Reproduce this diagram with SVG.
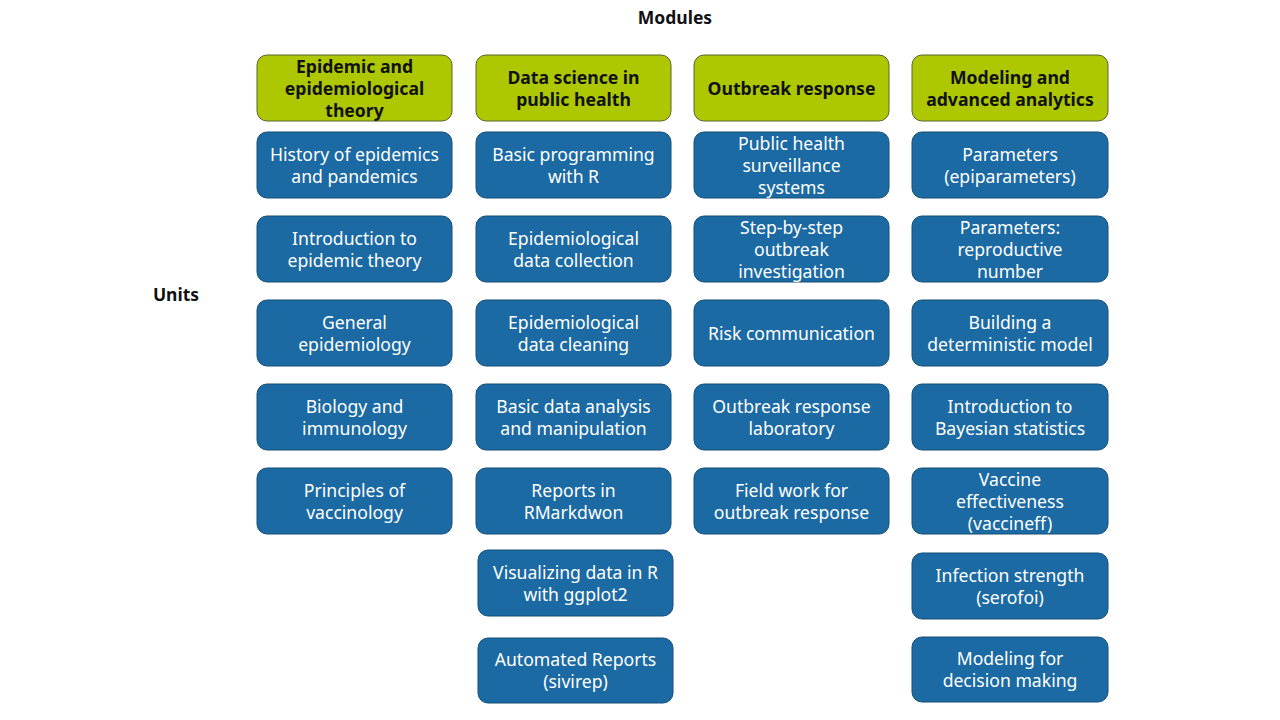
<svg xmlns="http://www.w3.org/2000/svg" width="1280" height="720" viewBox="0 0 1280 720">
  <style>
    .mod rect { fill: #adc800; stroke: #5a6330; stroke-width: 1; }
    .unit rect { fill: #1b6aa3; stroke: #164f78; stroke-width: 1; }
    text { font-family: "Noto Sans", "Open Sans", sans-serif; text-anchor: middle; }
    .mod text { fill: #111; font-size: 17.6px; font-weight: bold; }
    .unit text { fill: #ffffff; font-size: 17.6px; }
    .lbl { fill: #111; font-size: 17.5px; font-weight: bold; }
  </style>
  <rect width="1280" height="720" fill="#ffffff"/>

  <text class="lbl" x="675" y="24">Modules</text>
  <text class="lbl" x="176" y="301">Units</text>

  <!-- Module headers -->
  <g id="mod-epi" class="mod">
    <rect x="257" y="55" width="195" height="66" rx="10"/>
    <text x="354.5" y="73">Epidemic and</text>
    <text x="354.5" y="95">epidemiological</text>
    <text x="354.5" y="117">theory</text>
  </g>
  <g id="mod-ds" class="mod">
    <rect x="476" y="55" width="195" height="66" rx="10"/>
    <text x="573.5" y="84">Data science in</text>
    <text x="573.5" y="106">public health</text>
  </g>
  <g id="mod-or" class="mod">
    <rect x="694" y="55" width="195" height="66" rx="10"/>
    <text x="791.5" y="95">Outbreak response</text>
  </g>
  <g id="mod-mod" class="mod">
    <rect x="912" y="55" width="196" height="66" rx="10"/>
    <text x="1010" y="84">Modeling and</text>
    <text x="1010" y="106">advanced analytics</text>
  </g>

  <!-- Column 1 units -->
  <g id="u-history" class="unit">
    <rect x="257" y="132" width="195" height="66" rx="10"/>
    <text x="354.5" y="161">History of epidemics</text>
    <text x="354.5" y="183">and pandemics</text>
  </g>
  <g id="u-intro-epi" class="unit">
    <rect x="257" y="216" width="195" height="66" rx="10"/>
    <text x="354.5" y="245">Introduction to</text>
    <text x="354.5" y="267">epidemic theory</text>
  </g>
  <g id="u-general-epi" class="unit">
    <rect x="257" y="300" width="195" height="66" rx="10"/>
    <text x="354.5" y="329">General</text>
    <text x="354.5" y="351">epidemiology</text>
  </g>
  <g id="u-biology" class="unit">
    <rect x="257" y="384" width="195" height="66" rx="10"/>
    <text x="354.5" y="413">Biology and</text>
    <text x="354.5" y="435">immunology</text>
  </g>
  <g id="u-vaccinology" class="unit">
    <rect x="257" y="468" width="195" height="66" rx="10"/>
    <text x="354.5" y="497">Principles of</text>
    <text x="354.5" y="519">vaccinology</text>
  </g>

  <!-- Column 2 units -->
  <g id="u-programming" class="unit">
    <rect x="476" y="132" width="195" height="66" rx="10"/>
    <text x="573.5" y="161">Basic programming</text>
    <text x="573.5" y="183">with R</text>
  </g>
  <g id="u-collection" class="unit">
    <rect x="476" y="216" width="195" height="66" rx="10"/>
    <text x="573.5" y="245">Epidemiological</text>
    <text x="573.5" y="267">data collection</text>
  </g>
  <g id="u-cleaning" class="unit">
    <rect x="476" y="300" width="195" height="66" rx="10"/>
    <text x="573.5" y="329">Epidemiological</text>
    <text x="573.5" y="351">data cleaning</text>
  </g>
  <g id="u-analysis" class="unit">
    <rect x="476" y="384" width="195" height="66" rx="10"/>
    <text x="573.5" y="413">Basic data analysis</text>
    <text x="573.5" y="435">and manipulation</text>
  </g>
  <g id="u-rmarkdown" class="unit">
    <rect x="476" y="468" width="195" height="66" rx="10"/>
    <text x="573.5" y="497">Reports in</text>
    <text x="573.5" y="519">RMarkdwon</text>
  </g>
  <g id="u-ggplot" class="unit">
    <rect x="478" y="550" width="195" height="66" rx="10"/>
    <text x="575.5" y="579">Visualizing data in R</text>
    <text x="575.5" y="601">with ggplot2</text>
  </g>
  <g id="u-sivirep" class="unit">
    <rect x="478" y="638" width="195" height="65" rx="10"/>
    <text x="575.5" y="666">Automated Reports</text>
    <text x="575.5" y="688">(sivirep)</text>
  </g>

  <!-- Column 3 units -->
  <g id="u-surveillance" class="unit">
    <rect x="694" y="132" width="195" height="66" rx="10"/>
    <text x="791.5" y="150">Public health</text>
    <text x="791.5" y="172">surveillance</text>
    <text x="791.5" y="194">systems</text>
  </g>
  <g id="u-investigation" class="unit">
    <rect x="694" y="216" width="195" height="66" rx="10"/>
    <text x="791.5" y="234">Step-by-step</text>
    <text x="791.5" y="256">outbreak</text>
    <text x="791.5" y="278">investigation</text>
  </g>
  <g id="u-risk" class="unit">
    <rect x="694" y="300" width="195" height="66" rx="10"/>
    <text x="791.5" y="340">Risk communication</text>
  </g>
  <g id="u-laboratory" class="unit">
    <rect x="694" y="384" width="195" height="66" rx="10"/>
    <text x="791.5" y="413">Outbreak response</text>
    <text x="791.5" y="435">laboratory</text>
  </g>
  <g id="u-fieldwork" class="unit">
    <rect x="694" y="468" width="195" height="66" rx="10"/>
    <text x="791.5" y="497">Field work for</text>
    <text x="791.5" y="519">outbreak response</text>
  </g>

  <!-- Column 4 units -->
  <g id="u-epiparameters" class="unit">
    <rect x="912" y="132" width="196" height="66" rx="10"/>
    <text x="1010" y="161">Parameters</text>
    <text x="1010" y="183">(epiparameters)</text>
  </g>
  <g id="u-reproductive" class="unit">
    <rect x="912" y="216" width="196" height="66" rx="10"/>
    <text x="1010" y="234">Parameters:</text>
    <text x="1010" y="256">reproductive</text>
    <text x="1010" y="278">number</text>
  </g>
  <g id="u-deterministic" class="unit">
    <rect x="912" y="300" width="196" height="66" rx="10"/>
    <text x="1010" y="329">Building a</text>
    <text x="1010" y="351">deterministic model</text>
  </g>
  <g id="u-bayesian" class="unit">
    <rect x="912" y="384" width="196" height="66" rx="10"/>
    <text x="1010" y="413">Introduction to</text>
    <text x="1010" y="435">Bayesian statistics</text>
  </g>
  <g id="u-vaccineff" class="unit">
    <rect x="912" y="468" width="196" height="66" rx="10"/>
    <text x="1010" y="486">Vaccine</text>
    <text x="1010" y="508">effectiveness</text>
    <text x="1010" y="530">(vaccineff)</text>
  </g>
  <g id="u-serofoi" class="unit">
    <rect x="912" y="553" width="196" height="66" rx="10"/>
    <text x="1010" y="582">Infection strength</text>
    <text x="1010" y="604">(serofoi)</text>
  </g>
  <g id="u-decision" class="unit">
    <rect x="912" y="637" width="196" height="65" rx="10"/>
    <text x="1010" y="665">Modeling for</text>
    <text x="1010" y="687">decision making</text>
  </g>

  <!-- No connectors are drawn between nodes -->
  <g id="connectors"></g>
</svg>
